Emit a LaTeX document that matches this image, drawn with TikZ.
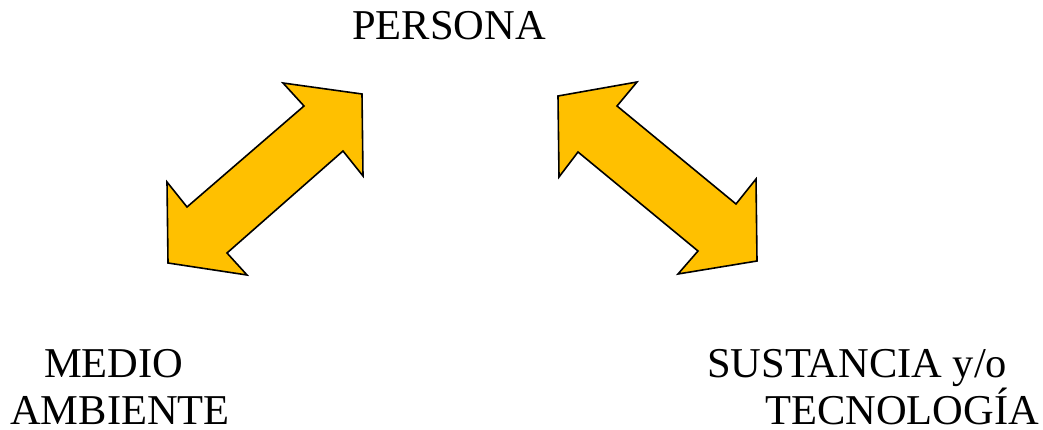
\documentclass[tikz,border=0pt]{standalone}
\usepackage{fontspec}
\setmainfont{Liberation Serif}
\definecolor{arrowfill}{HTML}{FFC000}
\begin{document}
\begin{tikzpicture}[x=1pt,y=-1pt,
  label/.style={inner sep=0pt,font=\fontsize{42.5}{48}\selectfont,anchor=base west},
  bigarrow/.style={draw=black,line width=1.6pt,fill=arrowfill,line join=miter}]
\useasboundingbox (0,0) rectangle (1043,430);

% double-headed block arrow between MEDIO AMBIENTE and PERSONA
\draw[bigarrow] (283,83) -- (362,94) -- (363,176) -- (343,151) -- (227,253)
  -- (247,275) -- (168,263) -- (167,182) -- (187,207) -- (304,106) -- cycle;

% double-headed block arrow between PERSONA and SUSTANCIA y/o TECNOLOGIA
\draw[bigarrow] (637,82) -- (558,96) -- (559,177) -- (578,152) -- (698,251)
  -- (678,274) -- (757,261) -- (756,179) -- (736,204) -- (617,106) -- cycle;

\node[label] (persona) at (352,40) {PERSONA};
\node[label] (medio) at (44,377) {MEDIO};
\node[label] (ambiente) at (10,424) {AMBIENTE};
\node[label] (sustancia) at (707,377) {SUSTANCIA y/o};
\node[label] (tecnologia) at (765,424) {TECNOLOGÍA};
\end{tikzpicture}
\end{document}
